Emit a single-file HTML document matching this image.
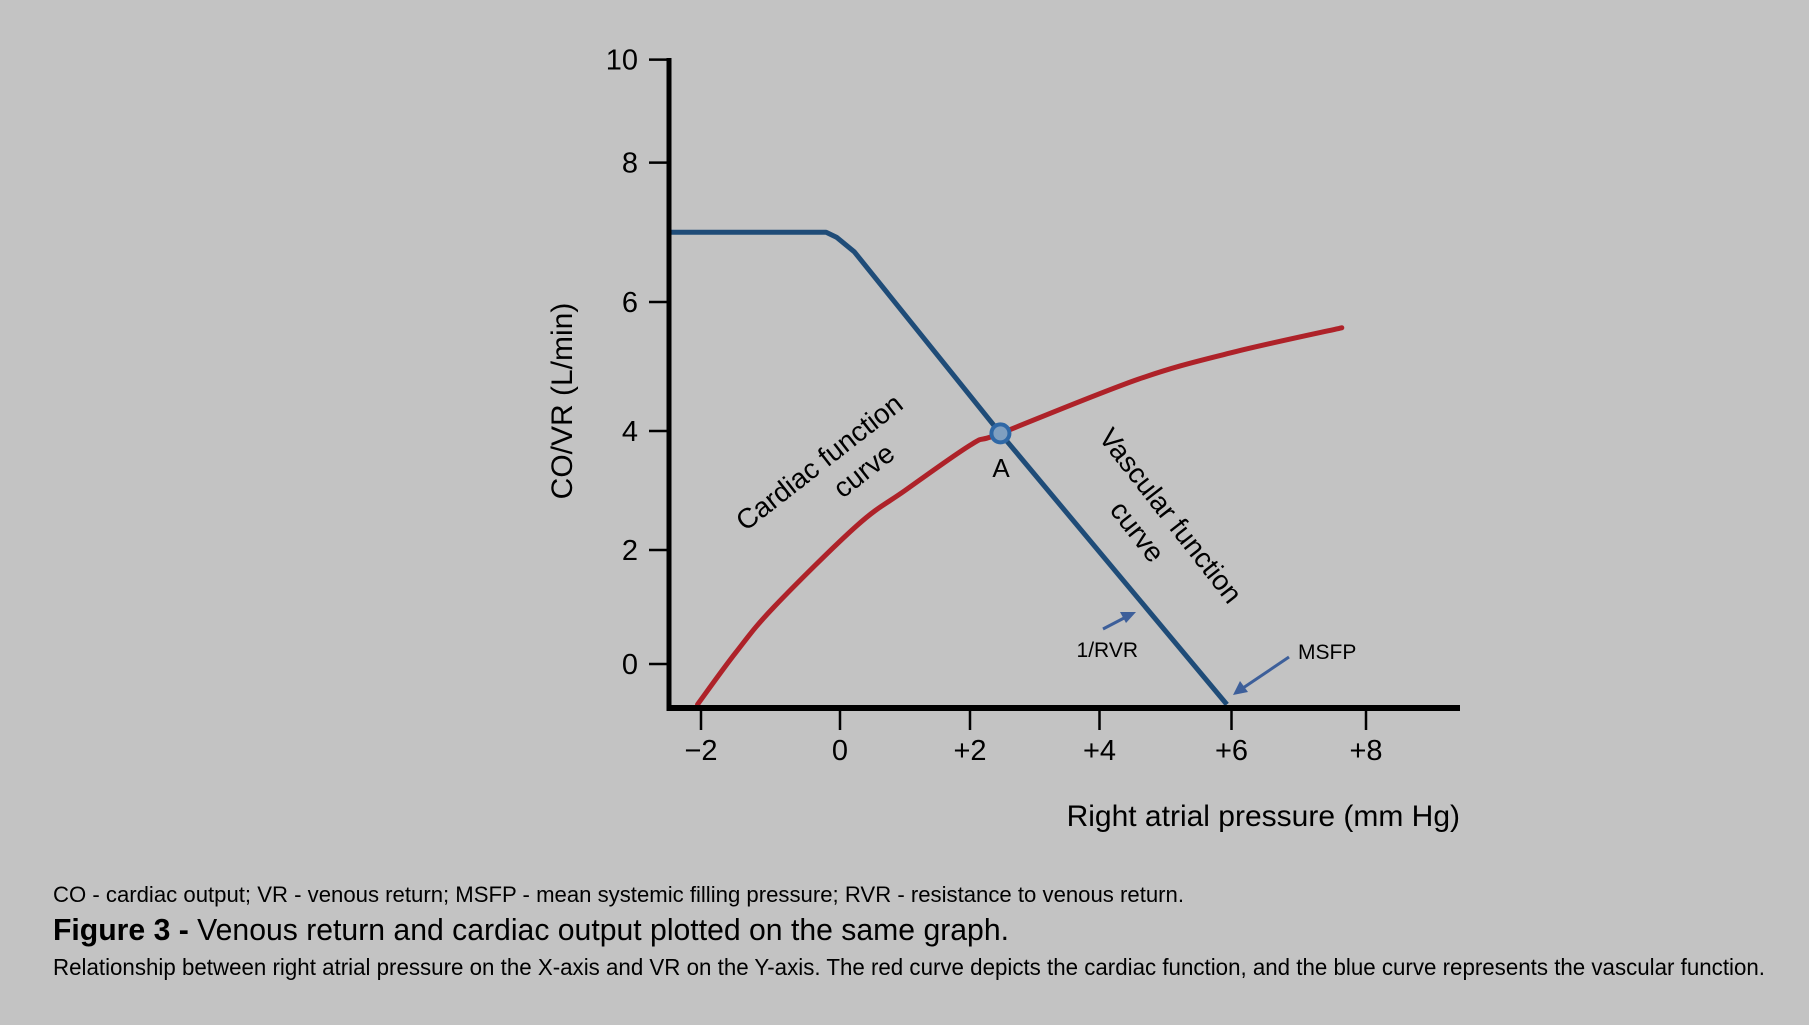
<!DOCTYPE html>
<html><head><meta charset="utf-8"><style>
html,body{margin:0;padding:0;background:#c3c3c3;}
svg{display:block;}
text{font-family:"Liberation Sans",sans-serif;fill:#000;}
</style></head><body>
<svg id="chart" width="1809" height="1025" viewBox="0 0 1809 1025">
<rect width="1809" height="1025" fill="#c3c3c3"/>
<g id="marks"></g>
<g id="axes"></g>
<text x="564" y="401" font-size="30" text-anchor="middle" dominant-baseline="middle" transform="rotate(-90 564 401)">CO/VR (L/min)</text>
<text x="1460" y="826" font-size="30" text-anchor="end">Right atrial pressure (mm Hg)</text>
<g transform="translate(830,476) rotate(-38)">
<text x="0" y="-8" font-size="28" text-anchor="middle">Cardiac function</text>
<text x="30" y="26" font-size="28" text-anchor="middle">curve</text>
</g>
<g transform="translate(1160,524) rotate(52)">
<text x="0" y="-4" font-size="28" text-anchor="middle">Vascular function</text>
<text x="-8" y="32" font-size="28" text-anchor="middle">curve</text>
</g>
<text x="1001" y="477" font-size="26" text-anchor="middle">A</text>
<text x="1138" y="657" font-size="21" text-anchor="end">1/RVR</text>
<text x="1298" y="659" font-size="21">MSFP</text>
<g fill="#3d5f9a" stroke="#3d5f9a" stroke-width="3">
<line x1="1103" y1="629" x2="1126" y2="617"/>
<polygon points="1136,612 1120,612 1126,623" stroke="none"/>
<line x1="1289" y1="657" x2="1243" y2="688"/>
<polygon points="1233,695 1240,681 1248,692" stroke="none"/>
</g>
<text x="53" y="902" font-size="22" textLength="1131" lengthAdjust="spacingAndGlyphs">CO - cardiac output; VR - venous return; MSFP - mean systemic filling pressure; RVR - resistance to venous return.</text>
<text x="53" y="940" font-size="31" textLength="956" lengthAdjust="spacingAndGlyphs"><tspan font-weight="bold">Figure 3 - </tspan>Venous return and cardiac output plotted on the same graph.</text>
<text x="53" y="975" font-size="23" textLength="1712" lengthAdjust="spacingAndGlyphs">Relationship between right atrial pressure on the X-axis and VR on the Y-axis. The red curve depicts the cardiac function, and the blue curve represents the vascular function.</text>
</svg>
<script>
const xTicks = [-2, 0, 2, 4, 6, 8];
const xTickLabels = ["\u22122", "0", "+2", "+4", "+6", "+8"];
const yTicks = [0, 2, 4, 6, 8, 10];
const yTickLabels = ["0", "2", "4", "6", "8", "10"];
const vascularX = [-2.46, -0.2, -0.05, 0.22, 2.47, 5.93];
const vascularY = [7, 7, 6.93, 6.72, 3.96, -0.71];
const cardiacX = [-2.05, -1.5, -0.95, 0.26, 1.0, 2.03, 2.47, 4.58, 6.02, 7.64];
const cardiacY = [-0.71, 0.2, 1.0, 2.41, 3.0, 3.78, 3.96, 4.8, 5.22, 5.6];
const equilibriumX = [2.47];
const equilibriumY = [3.96];

// hand-drawn axis: piecewise tick pixel positions
const xTickPx = [701, 840, 970, 1099.5, 1231.5, 1366];
const yTickPx = [664, 550, 431, 302, 162.6, 59.6];
function interp(v, dom, rng) {
  let i = 0;
  if (v <= dom[0]) i = 0; else if (v >= dom[dom.length-1]) i = dom.length-2;
  else { while (v > dom[i+1]) i++; }
  const t = (v - dom[i]) / (dom[i+1] - dom[i]);
  return rng[i] + t * (rng[i+1] - rng[i]);
}
const sx = v => interp(v, xTicks, xTickPx);
const sy = v => interp(v, yTicks, yTickPx);
const NS = "http://www.w3.org/2000/svg";
const marks = document.getElementById('marks');
const axes = document.getElementById('axes');

function pathFrom(xs, ys) {
  return xs.map((x, i) => (i ? 'L' : 'M') + sx(x).toFixed(1) + ',' + sy(ys[i]).toFixed(1)).join(' ');
}
function smooth(xs, ys) {
  const p = xs.map((x, i) => [sx(x), sy(ys[i])]);
  let d = 'M' + p[0][0] + ',' + p[0][1];
  for (let i = 0; i < p.length - 1; i++) {
    const p0 = p[Math.max(0, i-1)], p1 = p[i], p2 = p[i+1], p3 = p[Math.min(p.length-1, i+2)];
    const c1 = [p1[0] + (p2[0]-p0[0])/6, p1[1] + (p2[1]-p0[1])/6];
    const c2 = [p2[0] - (p3[0]-p1[0])/6, p2[1] - (p3[1]-p1[1])/6];
    d += ' C' + c1.join(',') + ' ' + c2.join(',') + ' ' + p2.join(',');
  }
  return d;
}

const red = document.createElementNS(NS, 'path');
red.setAttribute('d', smooth(cardiacX, cardiacY));
red.setAttribute('fill', 'none');
red.setAttribute('stroke', '#ae2229');
red.setAttribute('stroke-width', '5');
red.setAttribute('stroke-linecap', 'round');


marks.appendChild(red);

const blue = document.createElementNS(NS, 'path');
blue.setAttribute('d', pathFrom(vascularX, vascularY));
blue.setAttribute('fill', 'none');
blue.setAttribute('stroke', '#1f4c78');
blue.setAttribute('stroke-width', '5');
blue.setAttribute('stroke-linejoin', 'round');


marks.appendChild(blue);

equilibriumX.forEach((x, i) => {
  const c = document.createElementNS(NS, 'circle');
  c.setAttribute('cx', sx(x));
  c.setAttribute('cy', sy(equilibriumY[i]));
  c.setAttribute('r', '9');
  c.setAttribute('fill', '#7f9fc0');
  c.setAttribute('stroke', '#2f68a6');
  c.setAttribute('stroke-width', '4');
  
  
  marks.appendChild(c);
});

const yAxis = document.createElementNS(NS, 'line');
yAxis.setAttribute('x1', 669); yAxis.setAttribute('x2', 669);
yAxis.setAttribute('y1', 58); yAxis.setAttribute('y2', 711);
yAxis.setAttribute('stroke', '#000'); yAxis.setAttribute('stroke-width', '5');


axes.appendChild(yAxis);
const xAxis = document.createElementNS(NS, 'line');
xAxis.setAttribute('x1', 667); xAxis.setAttribute('x2', 1460);
xAxis.setAttribute('y1', 708); xAxis.setAttribute('y2', 708);
xAxis.setAttribute('stroke', '#000'); xAxis.setAttribute('stroke-width', '6');


axes.appendChild(xAxis);

yTicks.forEach((v, i) => {
  const t = document.createElementNS(NS, 'line');
  t.setAttribute('x1', 649); t.setAttribute('x2', 669);
  t.setAttribute('y1', sy(v)); t.setAttribute('y2', sy(v));
  t.setAttribute('stroke', '#000'); t.setAttribute('stroke-width', '2.5');
  
  
  axes.appendChild(t);
  const l = document.createElementNS(NS, 'text');
  l.setAttribute('x', 638); l.setAttribute('y', sy(v) + 10);
  l.setAttribute('font-size', '29'); l.setAttribute('text-anchor', 'end');
  l.textContent = yTickLabels[i];
  
  
  axes.appendChild(l);
});
xTicks.forEach((v, i) => {
  const t = document.createElementNS(NS, 'line');
  t.setAttribute('x1', sx(v)); t.setAttribute('x2', sx(v));
  t.setAttribute('y1', 708); t.setAttribute('y2', 730);
  t.setAttribute('stroke', '#000'); t.setAttribute('stroke-width', '2.5');
  
  
  axes.appendChild(t);
  const l = document.createElementNS(NS, 'text');
  l.setAttribute('x', sx(v)); l.setAttribute('y', 760);
  l.setAttribute('font-size', '29'); l.setAttribute('text-anchor', 'middle');
  l.textContent = xTickLabels[i];
  
  
  axes.appendChild(l);
});
</script>
</body></html>
